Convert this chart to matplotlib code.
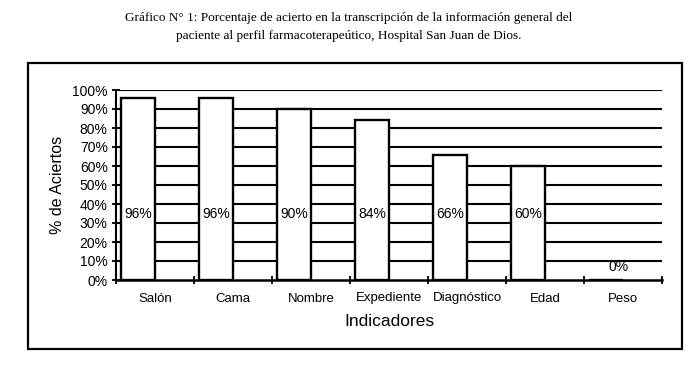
import numpy as np
import matplotlib
matplotlib.use("Agg")
import matplotlib.pyplot as plt
from matplotlib.patches import Rectangle

# datos del gráfico
indicadores = ["Salón", "Cama", "Nombre", "Expediente", "Diagnóstico", "Edad", "Peso"]
aciertos = [96, 96, 90, 84, 66, 60, 0]
yticks = [0, 10, 20, 30, 40, 50, 60, 70, 80, 90, 100]
ytick_labels = ["0%", "10%", "20%", "30%", "40%", "50%", "60%", "70%", "80%", "90%", "100%"]

titulo = ("Gráfico N° 1: Porcentaje de acierto en la transcripción de la información general del\n"
          "paciente al perfil farmacoterapeútico, Hospital San Juan de Dios.")

plt.rcParams['font.family'] = ['Liberation Sans', 'DejaVu Sans']

fig = plt.figure(figsize=(6.97, 3.81), dpi=100)
ax = fig.add_axes([116 / 697, 1 - 280 / 381, (662 - 116) / 697, (280 - 90) / 381])

# marco exterior
fig.patches.append(Rectangle((28 / 697, 1 - 349 / 381), (682 - 28) / 697, (349 - 63) / 381,
                             transform=fig.transFigure, fill=False, edgecolor="black",
                             linewidth=1.6, zorder=0))

fig.text(0.5, 1 - 27 / 381, titulo, ha="center", va="center", fontsize=9.5,
         family="Liberation Serif", linespacing=1.6)

x = np.arange(len(indicadores))
ancho = 0.44
ax.bar(x - ancho / 2, aciertos, width=ancho, color="white", edgecolor="black",
       linewidth=1.7, zorder=3)

for xi, v in zip(x, aciertos):
    if v > 35:
        ax.text(xi - ancho / 2, 35, "{}%".format(v), ha="center", va="center", fontsize=10, zorder=4)
    else:
        ax.text(xi - 0.06, v + 7, "{}%".format(v), ha="center", va="center", fontsize=10, zorder=4)

# lineas horizontales
for t in yticks[1:]:
    ax.axhline(t, color="black", linewidth=1.5, zorder=1)

ax.set_xlim(-0.5, len(indicadores) - 0.5)
ax.set_ylim(0, 100)
ax.set_yticks(yticks)
ax.set_yticklabels(ytick_labels, fontsize=10)
ax.set_xticks(np.arange(len(indicadores) + 1) - 0.5)
ax.set_xticklabels([])
ax.set_xticks(x, minor=True)
ax.set_xticklabels(indicadores, minor=True, fontsize=9.5)
ax.tick_params(axis="x", which="minor", length=0, pad=9)
ax.tick_params(axis="x", which="major", direction="inout", length=6, width=1.3)
ax.tick_params(axis="y", direction="inout", length=6, width=1.3, pad=3)

for s in ["top", "right"]:
    ax.spines[s].set_visible(False)
ax.spines["left"].set_linewidth(1.5)
ax.spines["bottom"].set_linewidth(1.8)

ax.set_ylabel("% de Aciertos", fontsize=11.5, labelpad=5)
ax.set_xlabel("Indicadores", fontsize=12.5, labelpad=7)

fig.savefig("out.png", dpi=100)
